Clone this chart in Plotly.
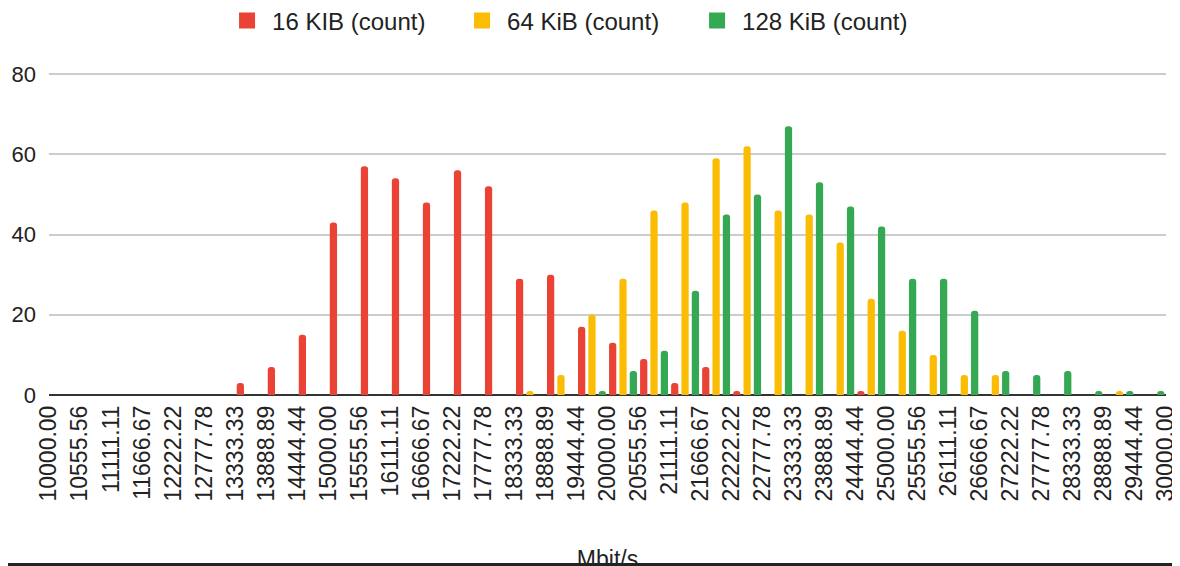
import plotly.graph_objects as go

FONT = "Liberation Sans, Arial, sans-serif"

# histogram bucket edges (x tick labels, Mbit/s)
BIN_EDGES = [
    "10000.00", "10555.56", "11111.11", "11666.67", "12222.22", "12777.78",
    "13333.33", "13888.89", "14444.44", "15000.00", "15555.56", "16111.11",
    "16666.67", "17222.22", "17777.78", "18333.33", "18888.89", "19444.44",
    "20000.00", "20555.56", "21111.11", "21666.67", "22222.22", "22777.78",
    "23333.33", "23888.89", "24444.44", "25000.00", "25555.56", "26111.11",
    "26666.67", "27222.22", "27777.78", "28333.33", "28888.89", "29444.44",
    "30000.00",
]

# counts per bucket (36 buckets)
COUNT_16K = [0, 0, 0, 0, 0, 0, 3, 7, 15, 43, 57, 54, 48, 56, 52, 29, 30, 17,
             13, 9, 3, 7, 1, 0, 0, 0, 1, 0, 0, 0, 0, 0, 0, 0, 0, 0]
COUNT_64K = [0, 0, 0, 0, 0, 0, 0, 0, 0, 0, 0, 0, 0, 0, 0, 1, 5, 20,
             29, 46, 48, 59, 62, 46, 45, 38, 24, 16, 10, 5, 5, 0, 0, 0, 1, 0]
COUNT_128K = [0, 0, 0, 0, 0, 0, 0, 0, 0, 0, 0, 0, 0, 0, 0, 0, 0, 1,
              6, 11, 26, 45, 50, 67, 53, 47, 42, 29, 29, 21, 6, 5, 6, 1, 1, 1]

SERIES = [
    ("16 KIB (count)", COUNT_16K, "#ea4335"),
    ("64 KiB (count)", COUNT_64K, "#fbbc04"),
    ("128 KiB (count)", COUNT_128K, "#34a853"),
]

edges = [float(e) for e in BIN_EDGES]
centers = [(a + b) / 2 for a, b in zip(edges[:-1], edges[1:])]

# the page body adds an 8px offset, so the figure coords are shifted by -8
PLOT_W, PLOT_H = 1117, 323

fig = go.Figure()

for name, counts, color in SERIES:
    xs = [c for c, v in zip(centers, counts) if v > 0]
    ys = [v for v in counts if v > 0]
    fig.add_trace(
        go.Bar(
            x=xs,
            y=ys,
            width=[(edges[1] - edges[0]) / 3 * 0.7] * len(xs),
            name=name,
            marker={"color": color, "cornerradius": "50%", "line": {"width": 0}},
            showlegend=False,
            offsetgroup=name,
        )
    )
    # bigger legend swatch
    fig.add_trace(
        go.Scatter(
            x=[None],
            y=[None],
            mode="markers",
            name=name,
            marker={"symbol": "square", "size": 16, "color": color},
        )
    )

fig.update_layout(
    width=1180,
    height=566,
    barmode="group",
    bargap=0,
    bargroupgap=0.3,
    paper_bgcolor="white",
    plot_bgcolor="white",
    font={"family": FONT, "color": "#222222", "size": 21},
    margin={"l": 41, "r": 22, "t": 64, "b": 179, "autoexpand": False},
    legend={
        "orientation": "h",
        "x": 0.4705,
        "xanchor": "center",
        "y": 0.977,
        "yref": "container",
        "yanchor": "middle",
        "itemsizing": "trace",
        "itemwidth": 40,
        "font": {"size": 24, "color": "#222222"},
        "entrywidth": 180,
    },
    xaxis={
        "range": [edges[0], edges[-1]],
        "tickmode": "array",
        "tickvals": edges,
        "ticktext": BIN_EDGES,
        "tickangle": -90,
        "showgrid": False,
        "zeroline": False,
        "showline": False,
        "automargin": False,
        "ticklabelstandoff": 5,
        "tickfont": {"size": 23},
        "title": {"text": "Mbit/s", "standoff": 50, "font": {"size": 23}},
    },
    yaxis={
        "range": [0, 80.5],
        "tickvals": [0, 20, 40, 60, 80],
        "showgrid": True,
        "gridcolor": "#cccccc",
        "gridwidth": 1.5,
        "zeroline": True,
        "zerolinecolor": "#333333",
        "zerolinewidth": 2,
        "automargin": False,
        "ticklabelstandoff": 12,
        "tickfont": {"size": 22},
    },
    shapes=[
        dict(
            type="rect",
            xref="paper",
            yref="paper",
            x0=-41 / PLOT_W,
            x1=1 + 22 / PLOT_W,
            y0=-171 / PLOT_H,
            y1=-168 / PLOT_H,
            fillcolor="#222222",
            line={"width": 0},
            layer="above",
        )
    ],
)

fig.write_html("out.html")
